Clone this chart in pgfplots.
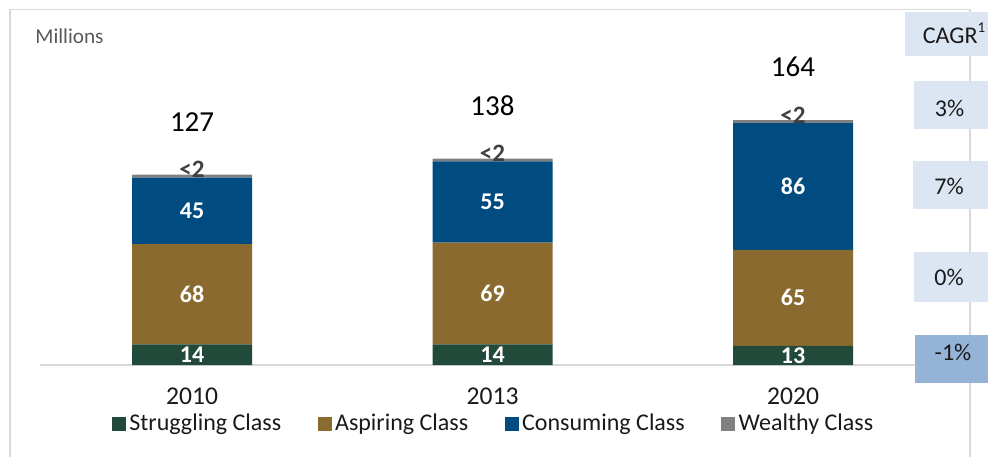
\documentclass[border=0pt]{standalone}
\usepackage{fontspec}
\setmainfont{Carlito}
\usepackage{pgfplots}
\pgfplotsset{compat=1.18}
\usepackage{pgfplotstable}

\definecolor{strug}{HTML}{214A3A}
\definecolor{aspir}{HTML}{8B6A2F}
\definecolor{consu}{HTML}{004B7F}
\definecolor{wealth}{HTML}{808080}
\definecolor{framec}{HTML}{D9D9D9}
\definecolor{boxl}{HTML}{DCE6F2}
\definecolor{boxd}{HTML}{95B3D7}
\definecolor{labg}{HTML}{404040}
\definecolor{milg}{HTML}{595959}
\definecolor{txt}{HTML}{1A1A1A}

\pgfplotstableread{
x y lab
0 14 14
1 14 14
2 13 13
}\strugtab
\pgfplotstableread{
x y lab
0 68 68
1 69 69
2 65 65
}\aspirtab
\pgfplotstableread{
x y lab
0 45 45
1 55 55
2 86 86
}\consutab
\pgfplotstableread{
x y lab
0 2 {<2}
1 2 {<2}
2 2 {<2}
}\wealthtab
\pgfplotstableread{
x y lab
0 129 127
1 140 138
2 166 164
}\totaltab

\newcommand{\pxy}[2]{({#1*0.5pt},{(457-#2)*0.5pt})}

\begin{document}
\begin{tikzpicture}
\path (0,0) rectangle (494pt,228.5pt);
\draw[framec, line width=0.75pt] \pxy{10}{457} -- \pxy{10}{9.5} -- \pxy{970}{9.5} -- \pxy{970}{457};
\pgfplotsset{myframe/.style={
  at={(20pt,46pt)}, anchor=south west, scale only axis,
  width=437.5pt, height=132.75pt,
  xmin=-0.506, xmax=2.406, ymin=0, ymax=180, clip=false}}
\begin{axis}[
  myframe,
  ybar stacked, bar width=60pt,
  axis x line*=bottom, axis y line=none,
  x axis line style={draw=framec, line width=0.75pt},
  xtick={0,1,2}, xticklabels={2010,2013,2020}, major tick length=0pt,
  xticklabel style={font=\fontsize{12.8}{14}\selectfont, text=txt, anchor=center, yshift=-15.85pt},
  ytick=\empty,
  nodes near coords, point meta=explicit symbolic,
  legend columns=-1,
  legend style={draw=none, fill=none, at={(0.5194,-0.2222)}, anchor=center,
    font=\fontsize{12}{14}\selectfont, text=txt, nodes={inner sep=1.8pt},
    /tikz/every even column/.append style={column sep=16.5pt}},
  legend image code/.code={\fill[#1] (0pt,-3.43pt) rectangle (6.85pt,3.43pt);},
]
\addplot[fill=strug, draw=none, every node near coord/.append style={anchor=center, text=white, font=\fontsize{12}{14}\selectfont\bfseries}]
  table[x=x, y=y, meta=lab]{\strugtab};
\addplot[fill=aspir, draw=none, every node near coord/.append style={anchor=center, text=white, font=\fontsize{12}{14}\selectfont\bfseries}]
  table[x=x, y=y, meta=lab]{\aspirtab};
\addplot[fill=consu, draw=none, every node near coord/.append style={anchor=center, text=white, font=\fontsize{12}{14}\selectfont\bfseries}]
  table[x=x, y=y, meta=lab]{\consutab};
\addplot[fill=wealth, draw=none, every node near coord/.append style={anchor=center, yshift=3.4pt, text=labg, font=\fontsize{12.5}{14}\selectfont\bfseries}]
  table[x=x, y=y, meta=lab]{\wealthtab};
\legend{Struggling Class, Aspiring Class, Consuming Class, Wealthy Class}
\end{axis}
\begin{axis}[myframe, hide axis,
  nodes near coords, point meta=explicit symbolic]
\addplot[draw=none, mark=none, every node near coord/.append style={anchor=center, yshift=26.5pt, text=black, font=\fontsize{14.5}{16}\selectfont}]
  table[x=x, y=y, meta=lab]{\totaltab};
\end{axis}
\node[anchor=base west, inner sep=0pt, text=milg, font=\fontsize{10.6}{12}\selectfont] at \pxy{35}{43.3} {Millions};
\fill[boxl] \pxy{905}{12} rectangle \pxy{988}{56};
\fill[boxl] \pxy{914}{81} rectangle \pxy{988}{129};
\fill[boxl] \pxy{913}{161} rectangle \pxy{988}{209};
\fill[boxl] \pxy{914}{252} rectangle \pxy{988}{302};
\fill[boxd] \pxy{915}{335} rectangle \pxy{988}{383};
\begin{scope}[every node/.style={anchor=base, inner sep=0pt, text=txt, font=\fontsize{12}{14}\selectfont}]
\node at \pxy{954}{43.3} {CAGR\raisebox{0.45em}{\fontsize{7.5}{8}\selectfont 1}};
\node at \pxy{949.5}{116.7} {3\%};
\node at \pxy{949}{195} {7\%};
\node at \pxy{949}{286} {0\%};
\node at \pxy{953}{360} {-1\%};
\end{scope}
\end{tikzpicture}
\end{document}
